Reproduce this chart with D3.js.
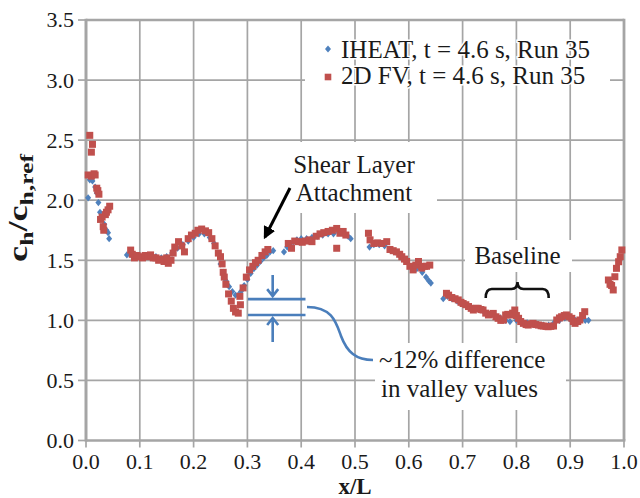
<!DOCTYPE html>
<html>
<head>
<meta charset="utf-8">
<script src="https://cdn.jsdelivr.net/npm/d3@7"></script>
<style>
  body { margin: 0; background: #fff; }
  svg { display: block; }
  svg text { font-family: "Liberation Serif", Tinos, "Times New Roman", "DejaVu Serif", serif; fill: #1a1a1a; }
</style>
</head>
<body>
<svg id="chart" width="640" height="498" font-family="Liberation Serif, Tinos, Times New Roman, DejaVu Serif, serif"></svg>
<script>
// Axis ticks
const xTicks = [0.0, 0.1, 0.2, 0.3, 0.4, 0.5, 0.6, 0.7, 0.8, 0.9, 1.0];
const yTicks = [0.0, 0.5, 1.0, 1.5, 2.0, 2.5, 3.0, 3.5];
const seriesNames = ["IHEAT, t = 4.6 s, Run 35", "2D FV, t = 4.6 s, Run 35"];

// IHEAT heating ratio along the model, [x/L, ch/ch,ref]
const iheatPoints = [
  [0.004, 2.02], [0.007, 2.17], [0.012, 2.16], [0.017, 2.11], [0.020, 2.06], [0.023, 1.98],
  [0.026, 1.90], [0.030, 1.86], [0.034, 1.80], [0.038, 1.75], [0.041, 1.73], [0.043, 1.68],
  [0.076, 1.545], [0.082, 1.55], [0.090, 1.54], [0.100, 1.53], [0.110, 1.53], [0.120, 1.54],
  [0.130, 1.53], [0.140, 1.52], [0.150, 1.53], [0.160, 1.56], [0.170, 1.60], [0.180, 1.63],
  [0.190, 1.66], [0.200, 1.69], [0.210, 1.72], [0.220, 1.72], [0.230, 1.69], [0.238, 1.64],
  [0.245, 1.56], [0.250, 1.47], [0.255, 1.40], [0.260, 1.33], [0.266, 1.28], [0.272, 1.24],
  [0.278, 1.21], [0.283, 1.21], [0.288, 1.24], [0.294, 1.29], [0.300, 1.34], [0.306, 1.39],
  [0.312, 1.43], [0.318, 1.46], [0.324, 1.49], [0.330, 1.52], [0.336, 1.54], [0.342, 1.57],
  [0.348, 1.58], [0.368, 1.57], [0.374, 1.61], [0.380, 1.64], [0.386, 1.655], [0.392, 1.67],
  [0.400, 1.68], [0.410, 1.68], [0.420, 1.69], [0.430, 1.70], [0.440, 1.71], [0.450, 1.72],
  [0.460, 1.72], [0.470, 1.73], [0.480, 1.72], [0.487, 1.70], [0.492, 1.68], [0.527, 1.61],
  [0.535, 1.63], [0.545, 1.63], [0.555, 1.62], [0.565, 1.59], [0.575, 1.57], [0.585, 1.53],
  [0.595, 1.49], [0.605, 1.45], [0.615, 1.43], [0.625, 1.40], [0.632, 1.36], [0.637, 1.33],
  [0.641, 1.31], [0.664, 1.18], [0.672, 1.20], [0.680, 1.18], [0.690, 1.16], [0.700, 1.14],
  [0.710, 1.12], [0.720, 1.10], [0.730, 1.09], [0.740, 1.07], [0.750, 1.05], [0.760, 1.04],
  [0.770, 1.02], [0.780, 1.00], [0.788, 0.99], [0.800, 1.00], [0.810, 0.99], [0.820, 0.98],
  [0.830, 0.97], [0.840, 0.965], [0.850, 0.96], [0.860, 0.96], [0.870, 0.98], [0.880, 1.00],
  [0.890, 1.02], [0.900, 1.01], [0.910, 1.00], [0.920, 1.01], [0.928, 1.00], [0.934, 1.00]
];

// 2D finite-volume heating ratio, [x/L, ch/ch,ref]
const fvPoints = [
  [0.004, 2.21], [0.007, 2.54], [0.010, 2.40], [0.012, 2.465], [0.010, 2.20], [0.015, 2.22],
  [0.017, 2.21], [0.020, 2.10], [0.022, 2.08], [0.024, 2.05], [0.027, 1.84], [0.030, 1.86],
  [0.032, 1.78], [0.033, 1.75], [0.036, 1.88], [0.038, 1.90], [0.041, 1.92], [0.044, 1.95],
  [0.083, 1.585], [0.086, 1.55], [0.090, 1.52], [0.095, 1.54], [0.100, 1.53], [0.105, 1.52],
  [0.110, 1.54], [0.115, 1.53], [0.120, 1.545], [0.125, 1.52], [0.130, 1.52], [0.135, 1.50],
  [0.140, 1.51], [0.145, 1.49], [0.150, 1.52], [0.153, 1.475], [0.158, 1.50], [0.162, 1.56],
  [0.165, 1.61], [0.172, 1.655], [0.178, 1.62], [0.183, 1.57], [0.190, 1.68], [0.196, 1.71],
  [0.203, 1.725], [0.208, 1.75], [0.215, 1.76], [0.222, 1.745], [0.228, 1.73], [0.234, 1.68],
  [0.240, 1.62], [0.246, 1.56], [0.250, 1.53], [0.253, 1.47], [0.255, 1.40], [0.257, 1.36],
  [0.260, 1.30], [0.265, 1.22], [0.270, 1.16], [0.274, 1.10], [0.278, 1.07], [0.283, 1.06],
  [0.287, 1.13], [0.286, 1.20], [0.292, 1.27], [0.298, 1.36], [0.304, 1.42], [0.310, 1.45],
  [0.315, 1.48], [0.320, 1.50], [0.327, 1.54], [0.333, 1.57], [0.338, 1.59],
  [0.376, 1.64], [0.382, 1.60], [0.388, 1.66], [0.395, 1.655], [0.402, 1.65], [0.408, 1.66],
  [0.415, 1.67], [0.420, 1.655], [0.428, 1.70], [0.435, 1.72], [0.442, 1.73], [0.450, 1.74],
  [0.458, 1.75], [0.466, 1.765], [0.466, 1.60], [0.472, 1.725], [0.478, 1.74], [0.483, 1.71],
  [0.525, 1.725], [0.528, 1.67], [0.535, 1.64], [0.542, 1.645], [0.550, 1.64], [0.559, 1.655],
  [0.565, 1.59], [0.571, 1.58], [0.577, 1.57], [0.583, 1.55], [0.587, 1.53], [0.592, 1.51],
  [0.596, 1.49], [0.602, 1.45], [0.608, 1.42], [0.613, 1.46], [0.618, 1.49], [0.624, 1.435],
  [0.629, 1.45], [0.633, 1.45], [0.639, 1.46],
  [0.670, 1.225], [0.674, 1.21], [0.680, 1.19], [0.686, 1.18], [0.692, 1.17], [0.697, 1.15],
  [0.701, 1.14], [0.706, 1.13], [0.711, 1.115], [0.716, 1.10], [0.720, 1.086], [0.725, 1.10],
  [0.729, 1.10], [0.734, 1.09], [0.738, 1.086], [0.743, 1.06], [0.748, 1.045], [0.752, 1.05],
  [0.757, 1.058], [0.762, 1.03], [0.766, 1.017], [0.771, 1.00], [0.776, 1.003], [0.780, 1.045],
  [0.784, 1.05], [0.788, 1.045], [0.793, 1.06], [0.797, 1.086], [0.800, 1.04], [0.804, 1.017],
  [0.808, 0.99], [0.813, 0.975], [0.818, 0.965], [0.822, 0.961], [0.827, 0.97], [0.831, 0.975],
  [0.836, 0.965], [0.841, 0.961], [0.846, 0.955], [0.850, 0.953], [0.855, 0.95], [0.859, 0.947],
  [0.864, 0.95], [0.869, 0.953], [0.875, 1.003], [0.880, 1.02], [0.884, 1.03], [0.889, 1.04],
  [0.893, 1.045], [0.898, 1.03], [0.903, 1.017], [0.906, 0.99], [0.909, 0.975], [0.914, 0.99],
  [0.918, 1.003], [0.923, 1.04], [0.927, 1.072],
  [0.971, 1.336], [0.974, 1.30], [0.977, 1.29], [0.980, 1.253], [0.983, 1.363], [0.986, 1.433],
  [0.990, 1.488], [0.993, 1.53], [0.996, 1.586]
];

const BLUE = "#4f81bd", RED = "#c0504d", GRID = "#a5a5a5", ANNO = "#4a7ebb";
const SERIF = "Liberation Serif, Tinos, Times New Roman, DejaVu Serif, serif";

const svg = d3.select("#chart");
const x = d3.scaleLinear().domain([0, 1]).range([86, 624]);
const y = d3.scaleLinear().domain([0, 3.5]).range([440.5, 20]);

// horizontal gridlines
svg.append("g").selectAll("line").data(yTicks.filter(v => v > 0 && v < 3.5)).join("line")
  .attr("x1", x(0)).attr("x2", x(1)).attr("y1", d => y(d)).attr("y2", d => y(d))
  .attr("stroke", GRID).attr("stroke-width", 1.7);

// legend backing strip (hides the 3.0 gridline behind the legend)
svg.append("rect").attr("x", 305).attr("y", 30).attr("width", 305).attr("height", 62).attr("fill", "#fff");

// vertical gridlines
svg.append("g").selectAll("line").data(xTicks.filter(v => v > 0 && v < 1)).join("line")
  .attr("x1", d => x(d)).attr("x2", d => x(d)).attr("y1", y(0)).attr("y2", y(3.5))
  .attr("stroke", GRID).attr("stroke-width", 1.7);

// white boxes behind annotation texts
const boxes = [
  [270, 142, 167, 71],
  [465, 240, 107, 32],
  [375, 343, 191, 67]
];
svg.append("g").selectAll("rect").data(boxes).join("rect")
  .attr("x", d => d[0]).attr("y", d => d[1]).attr("width", d => d[2]).attr("height", d => d[3])
  .attr("fill", "#fff");

// plot frame
const frame = svg.append("g").attr("fill", "none").attr("stroke", GRID);
frame.append("line").attr("x1", x(0)).attr("x2", x(1)).attr("y1", y(3.5)).attr("y2", y(3.5)).attr("stroke-width", 2.5);
frame.append("line").attr("x1", x(1)).attr("x2", x(1)).attr("y1", y(3.5) - 1.2).attr("y2", y(0)).attr("stroke-width", 2.8);
frame.append("line").attr("x1", x(0)).attr("x2", x(0)).attr("y1", y(3.5) - 1.2).attr("y2", y(0) + 1).attr("stroke-width", 3);
frame.append("line").attr("x1", x(0)).attr("x2", x(1) + 1.4).attr("y1", y(0)).attr("y2", y(0)).attr("stroke-width", 2.4);

// tick marks
frame.selectAll(".yt").data(yTicks).join("line").attr("class", "yt")
  .attr("x1", x(0) - 8).attr("x2", x(0)).attr("y1", d => y(d)).attr("y2", d => y(d)).attr("stroke-width", 1.7);
frame.selectAll(".xt").data(xTicks).join("line").attr("class", "xt")
  .attr("x1", d => x(d)).attr("x2", d => x(d)).attr("y1", y(0)).attr("y2", y(0) + 7).attr("stroke-width", 1.7);

// tick labels
svg.append("g").attr("font-family", SERIF).selectAll("text").data(yTicks).join("text")
  .attr("x", 74).attr("y", d => y(d)).attr("dy", "0.34em").attr("text-anchor", "end")
  .attr("font-size", 22).text(d => d.toFixed(1));
svg.append("g").attr("font-family", SERIF).selectAll("text").data(xTicks).join("text")
  .attr("x", d => x(d)).attr("y", 469).attr("text-anchor", "middle")
  .attr("font-size", 22).text(d => d.toFixed(1));

// axis titles
svg.append("text").attr("font-family", SERIF).attr("x", x(0.5)).attr("y", 494).attr("text-anchor", "middle")
  .attr("font-size", 23).attr("font-weight", "bold").text("x/L");
const yt = svg.append("text").attr("font-family", SERIF).attr("transform", "translate(27,208) rotate(-90)")
  .attr("text-anchor", "middle").attr("font-size", 27).attr("font-weight", "bold")
  .attr("textLength", 108).attr("lengthAdjust", "spacingAndGlyphs");
yt.append("tspan").text("c");
yt.append("tspan").attr("font-size", 19).attr("dy", 6).text("h");
yt.append("tspan").attr("dy", -6).text("/c");
yt.append("tspan").attr("font-size", 19).attr("dy", 6).text("h,ref");

// data: IHEAT diamonds, then 2D FV squares on top
const diamond = "M0,-3.6L3,0L0,3.6L-3,0Z";
svg.append("g").selectAll("path").data(iheatPoints).join("path")
  .attr("d", diamond).attr("transform", d => `translate(${x(d[0])},${y(d[1])})`).attr("fill", BLUE);
const sq = 7;
svg.append("g").selectAll("rect").data(fvPoints).join("rect")
  .attr("x", d => x(d[0]) - sq / 2).attr("y", d => y(d[1]) - sq / 2)
  .attr("width", sq).attr("height", sq).attr("fill", RED);

// legend
const legend = svg.append("g").attr("font-family", SERIF);
legend.append("path").attr("d", diamond).attr("transform", "translate(328,49)").attr("fill", BLUE);
legend.append("rect").attr("x", 328 - 3.3).attr("y", 77 - 3.3).attr("width", 6.6).attr("height", 6.6).attr("fill", RED);
legend.selectAll("text").data(seriesNames).join("text")
  .attr("x", 341).attr("y", (d, i) => 58 + i * 26).attr("font-size", 25)
  .attr("stroke", "#fff").attr("stroke-width", 3).attr("paint-order", "stroke")
  .text(d => d);

// "Shear Layer Attachment" note with arrow
const shear = svg.append("g").attr("font-family", SERIF);
shear.append("text").attr("x", 354).attr("y", 173).attr("text-anchor", "middle").attr("font-size", 25).text("Shear Layer");
shear.append("text").attr("x", 354).attr("y", 201).attr("text-anchor", "middle").attr("font-size", 25).text("Attachment");
svg.append("defs").append("marker").attr("id", "ah").attr("viewBox", "0 0 10 10")
  .attr("refX", 8).attr("refY", 5).attr("markerWidth", 4.2).attr("markerHeight", 4.2)
  .attr("orient", "auto").append("path").attr("d", "M0,0L10,5L0,10Z").attr("fill", "#000");
shear.append("line").attr("x1", 290).attr("y1", 188).attr("x2", 265).attr("y2", 237)
  .attr("stroke", "#000").attr("stroke-width", 3).attr("marker-end", "url(#ah)");

// valley difference markers
const valley = svg.append("g").attr("stroke", ANNO).attr("stroke-width", 2.6).attr("fill", "none");
const vTop = 1.177, vBot = 1.044, vx0 = 0.301, vx1 = 0.408, vxa = 0.347;
valley.append("line").attr("x1", x(vx0)).attr("x2", x(vx1)).attr("y1", y(vTop)).attr("y2", y(vTop));
valley.append("line").attr("x1", x(vx0)).attr("x2", x(vx1)).attr("y1", y(vBot)).attr("y2", y(vBot));
const ax = x(vxa);
valley.append("path").attr("d", `M${ax},${y(vTop) - 24}V${y(vTop) - 3}M${ax - 5.5},${y(vTop) - 10}L${ax},${y(vTop) - 3}L${ax + 5.5},${y(vTop) - 10}`);
valley.append("path").attr("d", `M${ax},${y(vBot) + 27}V${y(vBot) + 3}M${ax - 5.5},${y(vBot) + 10}L${ax},${y(vBot) + 3}L${ax + 5.5},${y(vBot) + 10}`);
valley.append("path").attr("d", "M307,307C332,307 336,322 341,336C347,352 356,360 373,360");
const diff = svg.append("g").attr("font-family", SERIF).attr("font-size", 25);
diff.append("text").attr("x", 379).attr("y", 368).text("~12% difference");
diff.append("text").attr("x", 381).attr("y", 397).text("in valley values");

// baseline brace
svg.append("text").attr("font-family", SERIF).attr("x", x(0.802)).attr("y", 264).attr("text-anchor", "middle").attr("font-size", 25).text("Baseline");
const b0 = x(0.743), b1 = x(0.860), bm = x(0.802);
svg.append("path")
  .attr("d", `M${b0},298Q${b0},289 ${b0 + 6},289L${bm - 6},289Q${bm},289 ${bm},282Q${bm},289 ${bm + 6},289L${b1 - 6},289Q${b1},289 ${b1},298`)
  .attr("fill", "none").attr("stroke", "#111").attr("stroke-width", 2.6);
</script>
</body>
</html>
